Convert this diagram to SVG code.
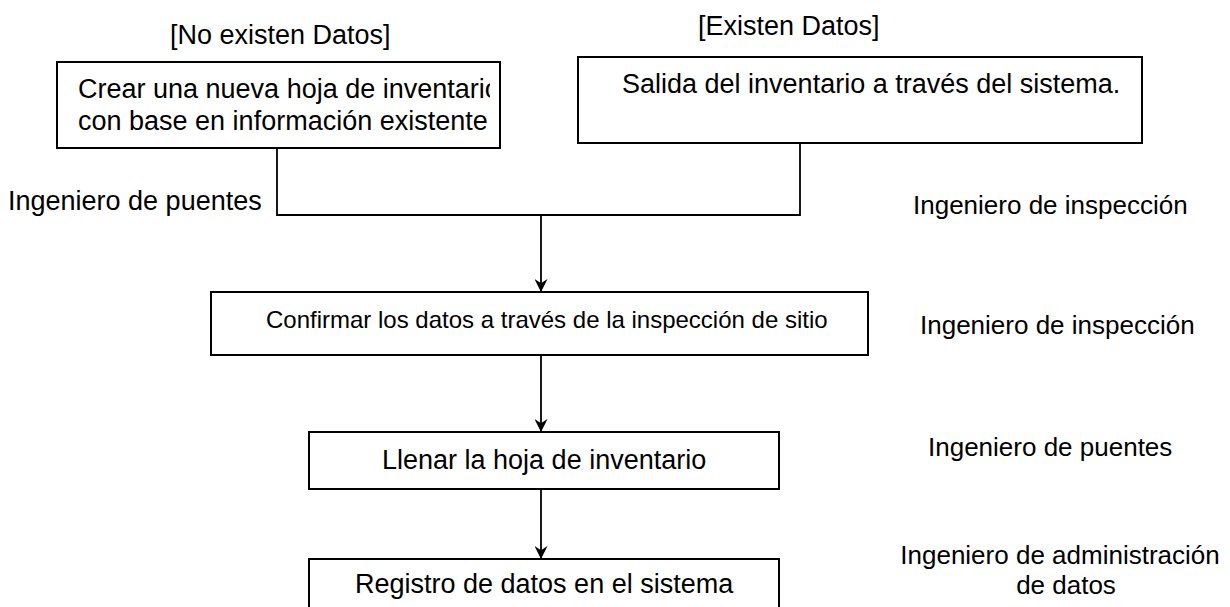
<svg xmlns="http://www.w3.org/2000/svg" width="1230" height="607" viewBox="0 0 1230 607">
  <style>
    text { font-family: "Liberation Sans", Arial, sans-serif; fill: #000; }
    .t { font-size: 27px; }
    .s { font-size: 24px; }
    .r { font-size: 26px; }
    .box { fill: #fff; stroke: #000; stroke-width: 2; }
    .ln { fill: none; stroke: #000; stroke-width: 1.8; }
  </style>
  <defs>
    <marker id="arr" viewBox="0 0 12 12" refX="12" refY="6" markerWidth="13" markerHeight="13" markerUnits="userSpaceOnUse" orient="auto">
      <path d="M0,0 L12,6 L0,12 L4,6 z" fill="#000"/>
    </marker>
    <clipPath id="c1"><rect x="57" y="62" width="433" height="86"/></clipPath>
  </defs>
  <rect width="1230" height="607" fill="#fff"/>

  <g id="labels">
    <text class="t" x="170" y="44">[No existen Datos]</text>
    <text class="t" x="698" y="35">[Existen Datos]</text>
    <text class="t" x="8" y="210">Ingeniero de puentes</text>
    <text class="r" x="913" y="214">Ingeniero de inspección</text>
    <text class="r" x="920" y="334">Ingeniero de inspección</text>
    <text class="r" x="928" y="456">Ingeniero de puentes</text>
    <text class="r" x="1060" y="564" text-anchor="middle">Ingeniero de administración</text>
    <text class="r" x="1066" y="594" text-anchor="middle">de datos</text>
  </g>

  <g id="connectors">
    <polyline class="ln" points="277,148 277,215 800,215 800,143"/>
    <line class="ln" x1="541" y1="215" x2="541" y2="292" marker-end="url(#arr)"/>
    <line class="ln" x1="541" y1="355" x2="541" y2="432" marker-end="url(#arr)"/>
    <line class="ln" x1="541" y1="489" x2="541" y2="559" marker-end="url(#arr)"/>
  </g>

  <g id="node1">
    <rect class="box" x="57" y="62" width="443" height="86"/>
    <g clip-path="url(#c1)">
      <text class="t" x="78" y="98">Crear una nueva hoja de inventario</text>
      <text class="t" x="78" y="130">con base en información existente</text>
    </g>
  </g>

  <g id="node2">
    <rect class="box" x="578" y="57" width="564" height="86"/>
    <text class="t" x="622" y="93">Salida del inventario a través del sistema.</text>
  </g>

  <g id="node3">
    <rect class="box" x="211" y="292" width="657" height="63"/>
    <text class="s" x="266" y="328">Confirmar los datos a través de la inspección de sitio</text>
  </g>

  <g id="node4">
    <rect class="box" x="309" y="432" width="470" height="57"/>
    <text class="t" x="382" y="469">Llenar la hoja de inventario</text>
  </g>

  <g id="node5">
    <rect class="box" x="309" y="559" width="470" height="60"/>
    <text class="t" x="355" y="593">Registro de datos en el sistema</text>
  </g>
</svg>
